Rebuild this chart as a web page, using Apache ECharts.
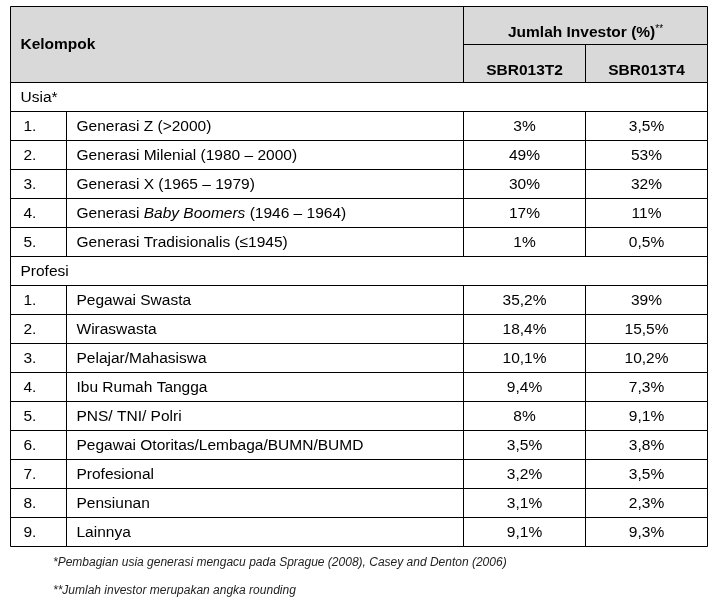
<!DOCTYPE html>
<html><head><meta charset="utf-8">
<script src="https://cdn.jsdelivr.net/npm/echarts@6/dist/echarts.min.js"></script>
<style>html,body{margin:0;padding:0;background:#fff}#c{width:715px;height:602px}</style>
</head><body><div id="c"></div>
<script>
// ---------- data ----------
const headerKelompok = 'Kelompok';
const headerGroup = 'Jumlah Investor (%)';
const headerGroupMark = '**';
const seriesNames = ['SBR013T2', 'SBR013T4'];

const sectionUsia = 'Usia*';
const usiaNo = ['1.', '2.', '3.', '4.', '5.'];
const usiaLabels = [
  'Generasi Z (>2000)',
  'Generasi Milenial (1980 – 2000)',
  'Generasi X (1965 – 1979)',
  'Generasi {i|Baby Boomers} (1946 – 1964)',
  'Generasi Tradisionalis (≤1945)'
];
const usiaT2 = [3, 49, 30, 17, 1];
const usiaT4 = [3.5, 53, 32, 11, 0.5];

const sectionProfesi = 'Profesi';
const profesiNo = ['1.', '2.', '3.', '4.', '5.', '6.', '7.', '8.', '9.'];
const profesiLabels = [
  'Pegawai Swasta',
  'Wiraswasta',
  'Pelajar/Mahasiswa',
  'Ibu Rumah Tangga',
  'PNS/ TNI/ Polri',
  'Pegawai Otoritas/Lembaga/BUMN/BUMD',
  'Profesional',
  'Pensiunan',
  'Lainnya'
];
const profesiT2 = [35.2, 18.4, 10.1, 9.4, 8, 3.5, 3.2, 3.1, 9.1];
const profesiT4 = [39, 15.5, 10.2, 7.3, 9.1, 3.8, 3.5, 2.3, 9.3];

const footnotes = [
  '*Pembagian usia generasi mengacu pada Sprague (2008), Casey and Denton (2006)',
  '**Jumlah investor merupakan angka rounding'
];

// ---------- layout / style ----------
const FONT = "'Liberation Sans', Arial, sans-serif";
const FS = 15.5;
const colEdges = [0, 56, 453, 575, 697];
const fmt = v => String(v).replace('.', ',') + '%';

// build cell lists
const headerCells = [
  {c0: 0, c1: 2, r0: 0, r1: 1, text: headerKelompok, align: 'left', pad: 10, bold: true, dy: 0},
  {c0: 2, c1: 4, r0: 0, r1: 0, text: headerGroup + '{s|' + headerGroupMark + '}', align: 'center', bold: true, dy: 6.5},
  {c0: 2, c1: 3, r0: 1, r1: 1, text: seriesNames[0], align: 'center', bold: true, dy: 6.5},
  {c0: 3, c1: 4, r0: 1, r1: 1, text: seriesNames[1], align: 'center', bold: true, dy: 6.5}
];
const bodyCells = [];
let row = 0;
function addSection(title, nos, labels, a, b) {
  bodyCells.push({c0: 0, c1: 4, r0: row, r1: row, text: title, align: 'left', pad: 10});
  row++;
  for (let i = 0; i < labels.length; i++) {
    bodyCells.push({c0: 0, c1: 1, r0: row, r1: row, text: nos[i], align: 'left', pad: 13});
    bodyCells.push({c0: 1, c1: 2, r0: row, r1: row, text: labels[i], align: 'left', pad: 10});
    bodyCells.push({c0: 2, c1: 3, r0: row, r1: row, text: fmt(a[i]), align: 'center'});
    bodyCells.push({c0: 3, c1: 4, r0: row, r1: row, text: fmt(b[i]), align: 'center'});
    row++;
  }
}
addSection(sectionUsia, usiaNo, usiaLabels, usiaT2, usiaT4);
addSection(sectionProfesi, profesiNo, profesiLabels, profesiT2, profesiT4);
const bodyRowCount = row;

function makeRender(cells, fillColor) {
  return function (params, api) {
    const c = cells[params.dataIndex];
    const h = api.size([0, 1])[1];
    const pA = api.coord([colEdges[api.value(0)], api.value(1)]);
    const pB = api.coord([colEdges[api.value(2)], api.value(3)]);
    const x0 = pA[0], x1 = pB[0];
    const y0 = pA[1] - h / 2, y1 = pB[1] + h / 2;
    const weight = c.bold ? 'bold' : 'normal';
    return {
      type: 'group',
      children: [
        {type: 'rect', z2: 0, shape: {x: x0, y: y0, width: x1 - x0, height: y1 - y0},
          style: {fill: fillColor, stroke: null}},
        {type: 'rect', z2: 10, shape: {x: x0, y: y0, width: x1 - x0, height: y1 - y0},
          style: {fill: null, stroke: '#000', lineWidth: 1}},
        {type: 'text', z2: 20,
          x: c.align === 'center' ? (x0 + x1) / 2 : x0 + c.pad,
          y: (y0 + y1) / 2 + 0.5 + (c.dy || 0),
          style: {
            text: c.text, fill: '#000', fontSize: FS, fontFamily: FONT, fontWeight: weight,
            align: c.align, verticalAlign: 'middle',
            rich: {
              i: {fontStyle: 'italic', fontSize: FS, fontFamily: FONT, fill: '#000'},
              s: {fontSize: 10, fontFamily: FONT, fontWeight: 'normal', fill: '#000', verticalAlign: 'top', padding: [0, 0, 6, 0]}
            }
          }}
      ]
    };
  };
}

const chart = echarts.init(document.getElementById('c'), null, {renderer: 'canvas'});
chart.setOption({
  animation: false,
  backgroundColor: '#fff',
  title: footnotes.map((t, i) => ({
    text: t, left: 53, top: 557 + i * 28, padding: 0,
    textStyle: {fontSize: 12, fontStyle: 'italic', fontWeight: 'normal', color: '#222', fontFamily: FONT}
  })),
  grid: [
    {left: 10.5, top: 6.5, width: 697, height: 76},
    {left: 10.5, top: 82.5, width: 697, height: 464}
  ],
  xAxis: [
    {gridIndex: 0, type: 'value', min: 0, max: 697, show: false},
    {gridIndex: 1, type: 'value', min: 0, max: 697, show: false}
  ],
  yAxis: [
    {gridIndex: 0, type: 'category', inverse: true, data: ['0', '1'], show: false},
    {gridIndex: 1, type: 'category', inverse: true,
      data: Array.from({length: bodyRowCount}, (_, i) => String(i)), show: false}
  ],
  series: [
    {type: 'custom', xAxisIndex: 0, yAxisIndex: 0, silent: true,
      renderItem: makeRender(headerCells, '#d9d9d9'),
      data: headerCells.map(c => [c.c0, c.r0, c.c1, c.r1])},
    {type: 'custom', xAxisIndex: 1, yAxisIndex: 1, silent: true,
      renderItem: makeRender(bodyCells, '#fff'),
      data: bodyCells.map(c => [c.c0, c.r0, c.c1, c.r1])}
  ]
});
</script></body></html>
